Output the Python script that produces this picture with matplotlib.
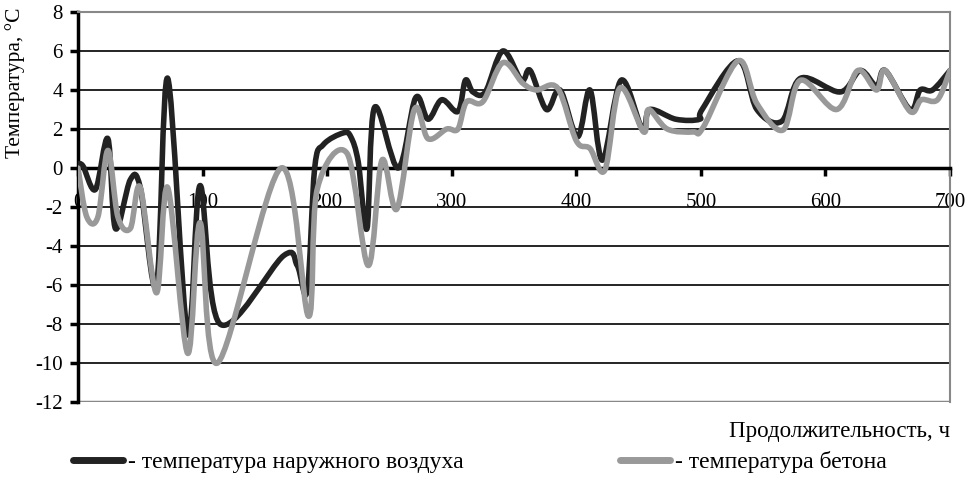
import matplotlib.pyplot as plt
from matplotlib.lines import Line2D
from matplotlib.path import Path
from matplotlib.patches import PathPatch

# hours / temperatures
t_air = [0, 4, 14, 24, 30, 42, 50, 63, 72, 88, 98, 114, 165, 176, 184, 190,
         197, 213, 219, 225, 232, 238, 257, 271, 281, 292, 305, 311, 317, 327, 341,
         356, 363, 376, 387, 401, 411, 421, 436, 453, 459, 480, 499, 501, 530,
         545, 565, 580, 612, 628, 641, 648, 668, 676, 686, 700]
temp_air = [0.2, 0.1, -1.1, 1.5, -3.1, -0.6, -1.0, -6.0, 4.6, -8.5, -0.9, -8.0,
            -4.5, -5.0, -6.3, 0.0, 1.2, 1.8, 1.6, 0.3, -3.1, 3.1, 0.0, 3.6, 2.5, 3.5,
            2.9, 4.5, 3.9, 3.9, 6.0, 4.5, 5.0, 3.0, 4.0, 1.6, 4.0, 0.4, 4.5, 2.0,
            3.0, 2.5, 2.5, 3.0, 5.5, 3.0, 2.4, 4.6, 3.9, 5.0, 4.2, 5.0, 3.0, 4.0,
            4.0, 5.0]

t_conc = [0, 7, 16, 24, 32, 42, 50, 63, 72, 88, 98, 112, 163, 185, 192, 216,
          233, 244, 256, 270, 281, 296, 305, 312, 325, 341, 357, 368, 385, 400,
          411, 423, 435, 454, 458, 473, 494, 502, 530, 545, 566, 580, 609, 626,
          641, 648, 668, 677, 690, 700]
temp_conc = [0.0, -2.5, -2.5, 0.9, -2.5, -3.1, -1.0, -6.4, -1.0, -9.5, -2.8,
             -10.0, 0.0, -7.6, -1.1, 0.75, -5.0, 0.4, -2.1, 3.0, 1.5, 2.0, 2.0,
             3.4, 3.4, 5.4, 4.35, 4.0, 4.1, 1.4, 1.0, -0.1, 4.1, 1.85, 3.0, 2.0,
             1.85, 2.1, 5.5, 3.3, 1.95, 4.5, 3.0, 5.0, 4.0, 5.0, 2.9, 3.5, 3.5, 5.0]

labels = ['- температура наружного воздуха', '- температура бетона']
colors = ['#222222', '#999999']


def smooth_path(x, y):
    # Excel-style "smoothed line": cubic Bezier segments through the points
    verts = [(x[0], y[0])]
    codes = [Path.MOVETO]
    n = len(x)
    for i in range(n - 1):
        x0, y0 = (x[i - 1], y[i - 1]) if i > 0 else (x[i], y[i])
        x3, y3 = (x[i + 2], y[i + 2]) if i + 2 < n else (x[i + 1], y[i + 1])
        c1 = (x[i] + (x[i + 1] - x0) / 6, y[i] + (y[i + 1] - y0) / 6)
        c2 = (x[i + 1] - (x3 - x[i]) / 6, y[i + 1] - (y3 - y[i]) / 6)
        verts += [c1, c2, (x[i + 1], y[i + 1])]
        codes += [Path.CURVE4] * 3
    return Path(verts, codes)


plt.rcParams['font.family'] = ['Liberation Serif', 'DejaVu Serif']
plt.rcParams['axes.unicode_minus'] = False

fig = plt.figure(figsize=(9.7, 4.8), dpi=100)
ax = fig.add_axes([78/970, 1 - 402/480, 872/970, 390/480])

for tx, ty, c, z in [(t_air, temp_air, colors[0], 3), (t_conc, temp_conc, colors[1], 4)]:
    ax.add_patch(PathPatch(smooth_path(tx, ty), facecolor='none', edgecolor=c,
                           lw=4.0, joinstyle='round', capstyle='round', zorder=z))

ax.set_xlim(0, 700)
ax.set_ylim(-12, 8)
ax.set_yticks(range(-12, 9, 2))
ax.set_xticks(range(0, 701, 100))
ax.yaxis.grid(True, color='black', lw=1.2)
ax.set_axisbelow(True)

ax.spines['bottom'].set_position(('data', 0))
ax.spines['bottom'].set_linewidth(2.5)
ax.spines['left'].set_linewidth(2.5)
for s in ['top', 'right']:
    ax.spines[s].set_color('#888888')
    ax.spines[s].set_linewidth(1.5)
ax.axhline(-12, color='#888888', lw=2.5, zorder=1)

ax.tick_params(axis='both', direction='out', length=6, width=2.5, labelsize=15)
ax.tick_params(axis='x', pad=12)
ax.tick_params(axis='y', pad=5)

fig.text(0.015, 0.985, 'Температура, °С', rotation=90, ha='center', va='top',
         fontsize=15.5)
fig.text(950/970, 1 - 432/480, 'Продолжительность, ч', ha='right', va='center',
         fontsize=16.5)

for lab, c, x0 in zip(labels, colors, [73/970, 620/970]):
    h = Line2D([], [], color=c, lw=5, solid_capstyle='round')
    fig.legend([h], [lab], loc='center left', bbox_to_anchor=(x0, 1 - 462/480),
               frameon=False, borderpad=0, borderaxespad=0, handlelength=2.1,
               handletextpad=0.25, fontsize=17)

fig.savefig('out.png', dpi=100)
